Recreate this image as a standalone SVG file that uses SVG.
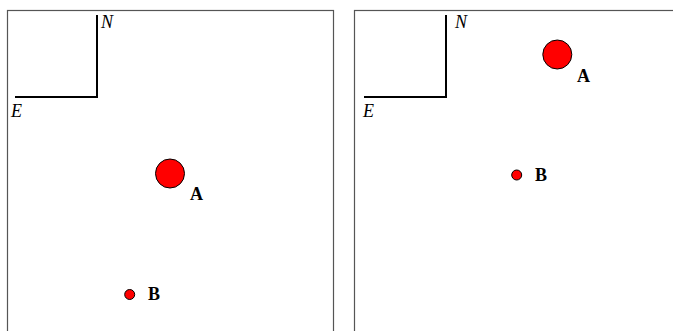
<svg xmlns="http://www.w3.org/2000/svg" width="673" height="331" viewBox="0 0 673 331">
<style>
.frame{fill:none;stroke:#555;stroke-width:1.2}
.axis{fill:none;stroke:#000;stroke-width:2}
.dir{font-family:'Liberation Serif','Times New Roman',Times,serif;font-style:italic;font-size:18px;fill:#000}
.lbl{font-family:'Liberation Serif','Times New Roman',Times,serif;font-weight:bold;font-size:18px;fill:#000}
.dot{fill:#ff0000;stroke:#000;stroke-width:1}
</style>
<rect width="673" height="331" fill="#fff"/>
<g id="panel-left">
<rect class="frame" x="7.5" y="10.5" width="326" height="340"/>
<path class="axis" d="M97 15 V97 H15"/>
<text class="dir" x="101" y="28">N</text>
<text class="dir" x="11" y="117">E</text>
</g>
<g id="panel-right">
<rect class="frame" x="354.5" y="10.5" width="330" height="340"/>
<path class="axis" d="M446 15 V97 H364"/>
<text class="dir" x="455" y="28">N</text>
<text class="dir" x="363" y="117">E</text>
</g>
<g id="left-A"><circle class="dot" cx="170" cy="173.5" r="14.5"/><text class="lbl" x="190" y="200">A</text></g>
<g id="left-B"><circle class="dot" cx="129.7" cy="294.5" r="5"/><text class="lbl" x="148" y="299.5">B</text></g>
<g id="right-A"><circle class="dot" cx="557.3" cy="54.5" r="14.5"/><text class="lbl" x="577" y="81.5">A</text></g>
<g id="right-B"><circle class="dot" cx="516.7" cy="175" r="5"/><text class="lbl" x="535" y="180.5">B</text></g>
<g id="connectors"></g>
</svg>
